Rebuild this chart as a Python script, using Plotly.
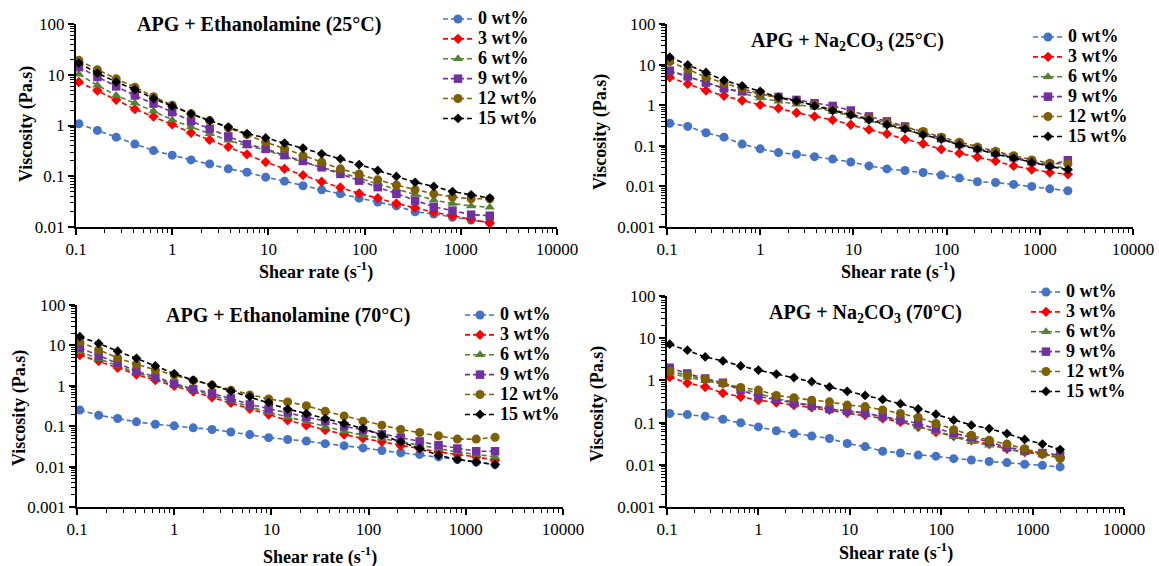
import plotly.graph_objects as go

W, H = 1159, 566

# ---------------- data ----------------
shear_rate = [0.107, 0.167, 0.262, 0.409, 0.640, 1.00, 1.57, 2.45, 3.83, 5.99, 9.37, 14.7,
              22.9, 35.8, 56.0, 87.6, 137, 214, 335, 524, 819, 1280, 2000]
concentrations = ["0 wt%", "3 wt%", "6 wt%", "9 wt%", "12 wt%", "15 wt%"]

# APG + Ethanolamine (25°C)
eth25_0 = [1.08, 0.8, 0.59, 0.43, 0.32, 0.26, 0.21, 0.175, 0.14, 0.12, 0.096, 0.08, 0.065, 0.054, 0.045, 0.037, 0.031, 0.026, 0.020, 0.018, 0.0155, 0.0137, 0.0123]
eth25_3 = [7.2, 4.9, 3.2, 2.1, 1.5, 1.05, 0.72, 0.52, 0.38, 0.27, 0.19, 0.14, 0.105, 0.078, 0.06, 0.046, 0.037, 0.029, 0.024, 0.0195, 0.0167, 0.0144, 0.012]
eth25_6 = [10.2, 6.2, 3.9, 2.76, 1.92, 1.29, 0.93, 0.69, 0.51, 0.40, 0.33, 0.245, 0.19, 0.15, 0.12, 0.093, 0.07, 0.056, 0.044, 0.034, 0.029, 0.026, 0.0245]
eth25_9 = [14.1, 9.0, 5.9, 3.9, 2.7, 1.83, 1.22, 0.86, 0.61, 0.43, 0.345, 0.26, 0.2, 0.15, 0.111, 0.082, 0.061, 0.045, 0.033, 0.025, 0.021, 0.0175, 0.0167]
eth25_12 = [19.2, 12.5, 8.3, 5.7, 3.7, 2.5, 1.7, 1.25, 0.9, 0.66, 0.47, 0.35, 0.255, 0.19, 0.14, 0.111, 0.085, 0.067, 0.054, 0.045, 0.039, 0.036, 0.036]
eth25_15 = [17.0, 10.8, 7.2, 5.1, 3.4, 2.4, 1.7, 1.25, 0.93, 0.69, 0.57, 0.45, 0.36, 0.276, 0.22, 0.17, 0.13, 0.099, 0.076, 0.063, 0.05, 0.043, 0.037]

# APG + Na2CO3 (25°C)
na25_0 = [0.36, 0.3, 0.21, 0.163, 0.11, 0.084, 0.068, 0.062, 0.054, 0.047, 0.04, 0.032, 0.027, 0.0246, 0.022, 0.019, 0.016, 0.013, 0.0125, 0.0112, 0.01, 0.0087, 0.0078]
na25_3 = [4.9, 3.35, 2.3, 1.7, 1.3, 1.02, 0.84, 0.65, 0.53, 0.435, 0.33, 0.25, 0.197, 0.146, 0.112, 0.082, 0.066, 0.053, 0.042, 0.032, 0.026, 0.022, 0.02]
na25_6 = [7.0, 5.0, 3.5, 2.6, 2.0, 1.5, 1.25, 1.05, 0.88, 0.7, 0.55, 0.42, 0.32, 0.25, 0.185, 0.14, 0.105, 0.082, 0.064, 0.05, 0.039, 0.032, 0.028]
na25_9 = [7.1, 5.1, 3.6, 2.6, 2.2, 1.9, 1.6, 1.35, 1.12, 0.96, 0.74, 0.53, 0.4, 0.3, 0.21, 0.155, 0.11, 0.087, 0.068, 0.052, 0.041, 0.034, 0.044]
na25_12 = [11.9, 7.7, 4.9, 3.5, 2.6, 1.9, 1.49, 1.23, 1.02, 0.77, 0.6, 0.48, 0.37, 0.29, 0.225, 0.163, 0.123, 0.093, 0.073, 0.057, 0.045, 0.037, 0.036]
na25_15 = [15.2, 9.8, 6.4, 4.1, 3.0, 2.2, 1.57, 1.28, 0.96, 0.74, 0.58, 0.435, 0.33, 0.26, 0.186, 0.146, 0.105, 0.083, 0.062, 0.05, 0.039, 0.031, 0.026]

# APG + Ethanolamine (70°C)
eth70_0 = [0.25, 0.187, 0.155, 0.128, 0.112, 0.102, 0.091, 0.083, 0.072, 0.062, 0.052, 0.047, 0.043, 0.037, 0.033, 0.029, 0.025, 0.022, 0.02, 0.0174, 0.015, 0.013, 0.0112]
eth70_3 = [5.8, 4.1, 2.8, 1.9, 1.38, 1.0, 0.72, 0.52, 0.38, 0.27, 0.195, 0.14, 0.106, 0.08, 0.062, 0.05, 0.041, 0.033, 0.028, 0.023, 0.02, 0.0174, 0.0144]
eth70_6 = [7.0, 4.7, 3.1, 2.1, 1.5, 1.08, 0.78, 0.59, 0.42, 0.3, 0.22, 0.17, 0.128, 0.096, 0.075, 0.06, 0.05, 0.041, 0.034, 0.028, 0.023, 0.02, 0.0174]
eth70_9 = [8.7, 5.5, 3.6, 2.3, 1.67, 1.14, 0.83, 0.65, 0.485, 0.345, 0.27, 0.22, 0.17, 0.133, 0.1, 0.08, 0.063, 0.052, 0.042, 0.034, 0.028, 0.024, 0.024]
eth70_12 = [12.3, 7.7, 4.9, 3.4, 2.45, 1.84, 1.36, 1.04, 0.78, 0.59, 0.47, 0.4, 0.32, 0.235, 0.18, 0.133, 0.106, 0.083, 0.07, 0.058, 0.048, 0.048, 0.053]
eth70_15 = [16.4, 11.2, 7.2, 4.8, 3.1, 2.0, 1.38, 1.04, 0.74, 0.54, 0.39, 0.265, 0.206, 0.155, 0.117, 0.088, 0.06, 0.041, 0.028, 0.019, 0.015, 0.013, 0.0112]

# APG + Na2CO3 (70°C)
na70_0 = [0.164, 0.155, 0.142, 0.12, 0.099, 0.079, 0.064, 0.055, 0.048, 0.042, 0.032, 0.027, 0.021, 0.019, 0.017, 0.016, 0.014, 0.013, 0.012, 0.0113, 0.0103, 0.0097, 0.0089]
na70_3 = [1.2, 0.87, 0.7, 0.5, 0.41, 0.34, 0.3, 0.26, 0.23, 0.2, 0.17, 0.15, 0.126, 0.104, 0.08, 0.06, 0.048, 0.038, 0.031, 0.024, 0.02, 0.018, 0.015]
na70_6 = [1.5, 1.17, 1.0, 0.81, 0.64, 0.49, 0.37, 0.31, 0.26, 0.21, 0.19, 0.165, 0.136, 0.11, 0.08, 0.06, 0.046, 0.035, 0.029, 0.024, 0.019, 0.018, 0.015]
na70_9 = [2.0, 1.46, 1.11, 0.88, 0.59, 0.42, 0.35, 0.29, 0.25, 0.21, 0.19, 0.17, 0.14, 0.114, 0.095, 0.072, 0.057, 0.046, 0.035, 0.026, 0.022, 0.019, 0.017]
na70_12 = [1.65, 1.33, 1.05, 0.85, 0.68, 0.59, 0.44, 0.39, 0.34, 0.31, 0.26, 0.24, 0.2, 0.165, 0.132, 0.095, 0.068, 0.05, 0.038, 0.031, 0.024, 0.018, 0.014]
na70_15 = [7.2, 5.2, 3.6, 2.9, 2.2, 1.75, 1.41, 1.17, 0.93, 0.7, 0.55, 0.44, 0.355, 0.28, 0.21, 0.158, 0.114, 0.087, 0.072, 0.055, 0.04, 0.031, 0.023]

x_tickvals = [0.1, 1, 10, 100, 1000, 10000]
x_ticktext = ["0.1", "1", "10", "100", "1000", "10000"]
y_tickvals_a = [0.01, 0.1, 1, 10, 100]
y_ticktext_a = ["0.01", "0.1", "1", "10", "100"]
y_tickvals_b = [0.001, 0.01, 0.1, 1, 10, 100]
y_ticktext_b = ["0.001", "0.01", "0.1", "1", "10", "100"]

panel_titles = ["APG + Ethanolamine (25°C)", "APG + Na<sub>2</sub>CO<sub>3</sub> (25°C)",
                "APG + Ethanolamine (70°C)", "APG + Na<sub>2</sub>CO<sub>3</sub> (70°C)"]
x_title = "Shear rate (s<sup>-1</sup>)"
y_title = "Viscosity (Pa.s)"

panels = [
    [eth25_0, eth25_3, eth25_6, eth25_9, eth25_12, eth25_15],
    [na25_0, na25_3, na25_6, na25_9, na25_12, na25_15],
    [eth70_0, eth70_3, eth70_6, eth70_9, eth70_12, eth70_15],
    [na70_0, na70_3, na70_6, na70_9, na70_12, na70_15],
]

# ---------------- styling ----------------
FONT = "Liberation Serif"
colors = ["#4472C4", "#FF0000", "#548235", "#7030A0", "#7F6000", "#000000"]
symbols = ["circle", "diamond", "triangle-up", "square", "circle", "diamond"]
sizes = [9, 8, 9, 8.5, 9, 7.5]

# pixel boxes of each plot area: (left, right, top, bottom)
boxes = [(76, 557, 24, 227), (667, 1133, 24, 227), (77, 563, 305, 507), (667, 1124, 296, 507)]
yranges = [[-2, 2], [-3, 2], [-3, 2], [-3, 2]]
legend_pos = [(438, 69), (1028, 87), (460, 365), (1026, 342)]   # left x, middle y
title_pos = [(259, 25), (847, 42), (288, 315), (865, 313)]
xtitle_pos = [(316, 271), (898, 271), (320, 556), (896, 552)]
ytitle_pos = [(26, 124), (600, 132), (19, 408), (597, 404)]

def px2x(p):
    return p / W

def px2y(p):
    return 1 - p / H

fig = go.Figure()
annotations = []
layout = dict(width=W, height=H, autosize=False, margin=dict(l=0, r=0, t=0, b=0, autoexpand=False),
              paper_bgcolor="white", plot_bgcolor="white", showlegend=True)

for k in range(4):
    left, right, top, bottom = boxes[k]
    sfx = "" if k == 0 else str(k + 1)
    leg = "legend" if k == 0 else f"legend{k + 1}"
    for j in range(6):
        fig.add_trace(go.Scatter(
            x=shear_rate, y=panels[k][j],
            name=f"<span style='font-size:18px'>{concentrations[j]}</span>",
            mode="lines+markers",
            line=dict(color=colors[j], width=1.6, dash="5px,3px"),
            marker=dict(color=colors[j], symbol=symbols[j], size=sizes[j]),
            xaxis="x" + sfx, yaxis="y" + sfx, legend=leg, cliponaxis=False))
    tickfont = dict(family=FONT, size=17, color="black")
    common = dict(type="log", showline=True, linecolor="black", linewidth=2,
                  ticks="outside", ticklen=6, tickwidth=2, tickcolor="black",
                  showgrid=False, zeroline=False, tickfont=tickfont, mirror=False,
                  minor=dict(ticks="outside", ticklen=4, tickwidth=1, tickcolor="black",
                             dtick="D1", showgrid=False))
    layout["xaxis" + sfx] = dict(common, domain=[px2x(left), px2x(right)], range=[-1, 4],
                                 tickmode="array", tickvals=x_tickvals, ticktext=x_ticktext,
                                 anchor="y" + sfx)
    yv, yt = (y_tickvals_a, y_ticktext_a) if k == 0 else (y_tickvals_b, y_ticktext_b)
    layout["yaxis" + sfx] = dict(common, domain=[px2y(bottom), px2y(top)], range=yranges[k],
                                 tickmode="array", tickvals=yv, ticktext=yt,
                                 anchor="x" + sfx)
    lx, ly = legend_pos[k]
    layout[leg] = dict(x=px2x(lx), y=px2y(ly), xanchor="left", yanchor="middle",
                       bgcolor="rgba(0,0,0,0)", borderwidth=0, tracegroupgap=0,
                       font=dict(family=FONT, size=13, color="black", weight="bold"))
    tx, ty = title_pos[k]
    annotations.append(dict(text=panel_titles[k], x=px2x(tx), y=px2y(ty), xref="paper", yref="paper",
                            showarrow=False, xanchor="center", yanchor="middle",
                            font=dict(family=FONT, size=20, color="black", weight="bold")))
    tx, ty = xtitle_pos[k]
    annotations.append(dict(text=x_title, x=px2x(tx), y=px2y(ty), xref="paper", yref="paper",
                            showarrow=False, xanchor="center", yanchor="middle",
                            font=dict(family=FONT, size=18, color="black", weight="bold")))
    tx, ty = ytitle_pos[k]
    annotations.append(dict(text=y_title, x=px2x(tx), y=px2y(ty), xref="paper", yref="paper",
                            showarrow=False, xanchor="center", yanchor="middle", textangle=-90,
                            font=dict(family=FONT, size=18, color="black", weight="bold")))

layout["annotations"] = annotations
fig.update_layout(**layout)
fig.write_html("out.html")
